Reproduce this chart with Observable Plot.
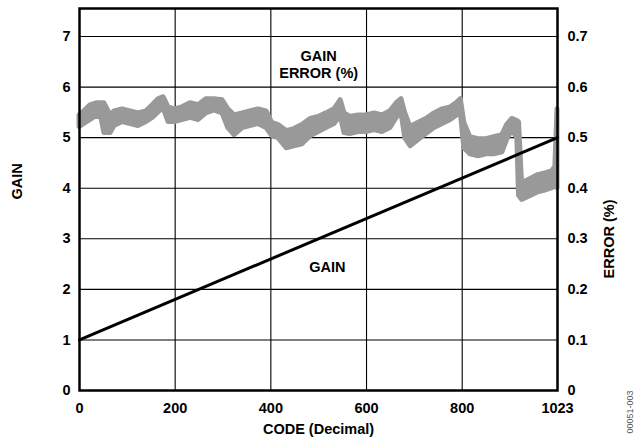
<!DOCTYPE html>
<html>
<head>
<meta charset="utf-8">
<script src="https://cdn.jsdelivr.net/npm/d3@7"></script>
<script src="https://cdn.jsdelivr.net/npm/@observablehq/plot@0.6"></script>
<style>
  html, body { margin: 0; padding: 0; background: #fff; }
  #chart svg { display: block; }
</style>
</head>
<body>
<div id="chart"></div>
<script>
// X axis: DAC code
const xTicks = [0, 200, 400, 600, 800, 1023];
// Left axis: gain
const gainTicks = [0, 1, 2, 3, 4, 5, 6, 7];
// Right axis: gain error (%)
const errTicks = [0, 0.1, 0.2, 0.3, 0.4, 0.5, 0.6, 0.7];

// Gain line
const gainCodes = [0, 1023];
const gainValues = [1, 5];

// Gain error trace (upper / lower envelope of the noisy band), in %
const errCodes = [0,10,23,36,46,52,65,73,90,107,123,140,153,165,176,186,199,215,232,249,265,282,299,311,324,341,357,374,391,403,416,433,449,466,483,500,516,533,546,554,566,583,600,617,633,650,663,673,681,692,708,725,742,759,776,788,797,805,819,838,857,875,894,905,917,929,933,940,959,978,997,1011,1018,1023];
const errHi = [.544,.552,.564,.568,.568,.568,.544,.552,.556,.552,.548,.552,.564,.576,.580,.560,.556,.560,.568,.564,.576,.576,.574,.556,.544,.548,.552,.556,.552,.529,.525,.513,.517,.525,.537,.541,.548,.556,.574,.548,.541,.544,.544,.548,.544,.552,.568,.576,.548,.521,.529,.537,.548,.556,.560,.568,.576,.529,.501,.497,.497,.501,.505,.525,.537,.533,.530,.410,.418,.426,.430,.434,.442,.556];
const errLo = [.521,.527,.535,.543,.539,.509,.509,.523,.531,.527,.523,.531,.539,.550,.558,.531,.531,.535,.539,.535,.548,.554,.548,.519,.505,.519,.523,.527,.519,.503,.499,.479,.483,.487,.503,.511,.519,.527,.543,.509,.507,.511,.511,.515,.511,.519,.539,.550,.499,.483,.495,.507,.519,.527,.535,.543,.550,.479,.467,.463,.467,.467,.471,.495,.515,.499,.385,.377,.384,.392,.396,.400,.408,.400];

const trace = errCodes.map((c, i) => ({code: c, hi: errHi[i], lo: errLo[i]}));
const gain = gainCodes.map((c, i) => ({code: c, gain: gainValues[i]}));

const font = "'Liberation Sans', Arial, Helvetica, sans-serif";

const chart = Plot.plot({
  width: 635,
  height: 444,
  marginTop: 8,
  marginBottom: 54,
  marginLeft: 79,
  marginRight: 78,
  style: {fontFamily: font, fontSize: "14.5px", fontWeight: "bold", color: "#000", background: "#fff"},
  x: {type: "linear", domain: [0, 800, 1023], range: [79, 461.7, 557]},
  y: {domain: [0, 7.554]},
  marks: [
    Plot.gridY(gainTicks.slice(1), {stroke: "#000", strokeOpacity: 1, strokeWidth: 1.1}),
    Plot.gridX(xTicks.slice(1, -1), {stroke: "#000", strokeOpacity: 1, strokeWidth: 1.1}),
    Plot.areaY(trace, {x: "code", y1: d => d.lo * 10, y2: d => d.hi * 10, fill: "#999999", stroke: "#999999", strokeWidth: 5, strokeLinejoin: "round"}),
    Plot.line(gain, {x: "code", y: "gain", stroke: "#000", strokeWidth: 3}),
    Plot.frame({stroke: "#000", strokeWidth: 2.5}),
    Plot.axisY(gainTicks, {anchor: "left", tickSize: 0, tickPadding: 9, label: null, fontWeight: "bold", fontSize: 14.5, tickFormat: d => String(d)}),
    Plot.axisY(errTicks.map(e => e * 10), {anchor: "right", tickSize: 0, tickPadding: 10, label: null, fontWeight: "bold", fontSize: 14.5,
      tickFormat: v => (Math.round(v) === 0 ? "0" : (v / 10).toFixed(1))}),
    Plot.axisX(xTicks, {anchor: "bottom", tickSize: 0, tickPadding: 12, label: null, fontWeight: "bold", fontSize: 14.5, tickFormat: d => String(d)}),
    Plot.text(["GAIN"], {frameAnchor: "left", dx: -62, rotate: -90, fontWeight: "bold", fontSize: 14.5}),
    Plot.text(["ERROR (%)"], {frameAnchor: "right", dx: 52, rotate: -90, fontWeight: "bold", fontSize: 14.5}),
    Plot.text(["CODE (Decimal)"], {frameAnchor: "bottom", dy: 43, fontWeight: "bold", fontSize: 14.5}),
    Plot.text(["GAIN\nERROR (%)"], {x: [500], y: [6.456], fontWeight: "bold", fontSize: 14.5, lineHeight: 1.17}),
    Plot.text(["GAIN"], {x: [518], y: [2.43], fontWeight: "bold", fontSize: 14.5}),
    Plot.text(["00051-003"], {frameAnchor: "bottom-right", dx: 75, dy: 0, rotate: -90, textAnchor: "end", fontWeight: "normal", fontSize: 9, fill: "#555"})
  ]
});

document.getElementById("chart").appendChild(chart);
</script>
</body>
</html>
